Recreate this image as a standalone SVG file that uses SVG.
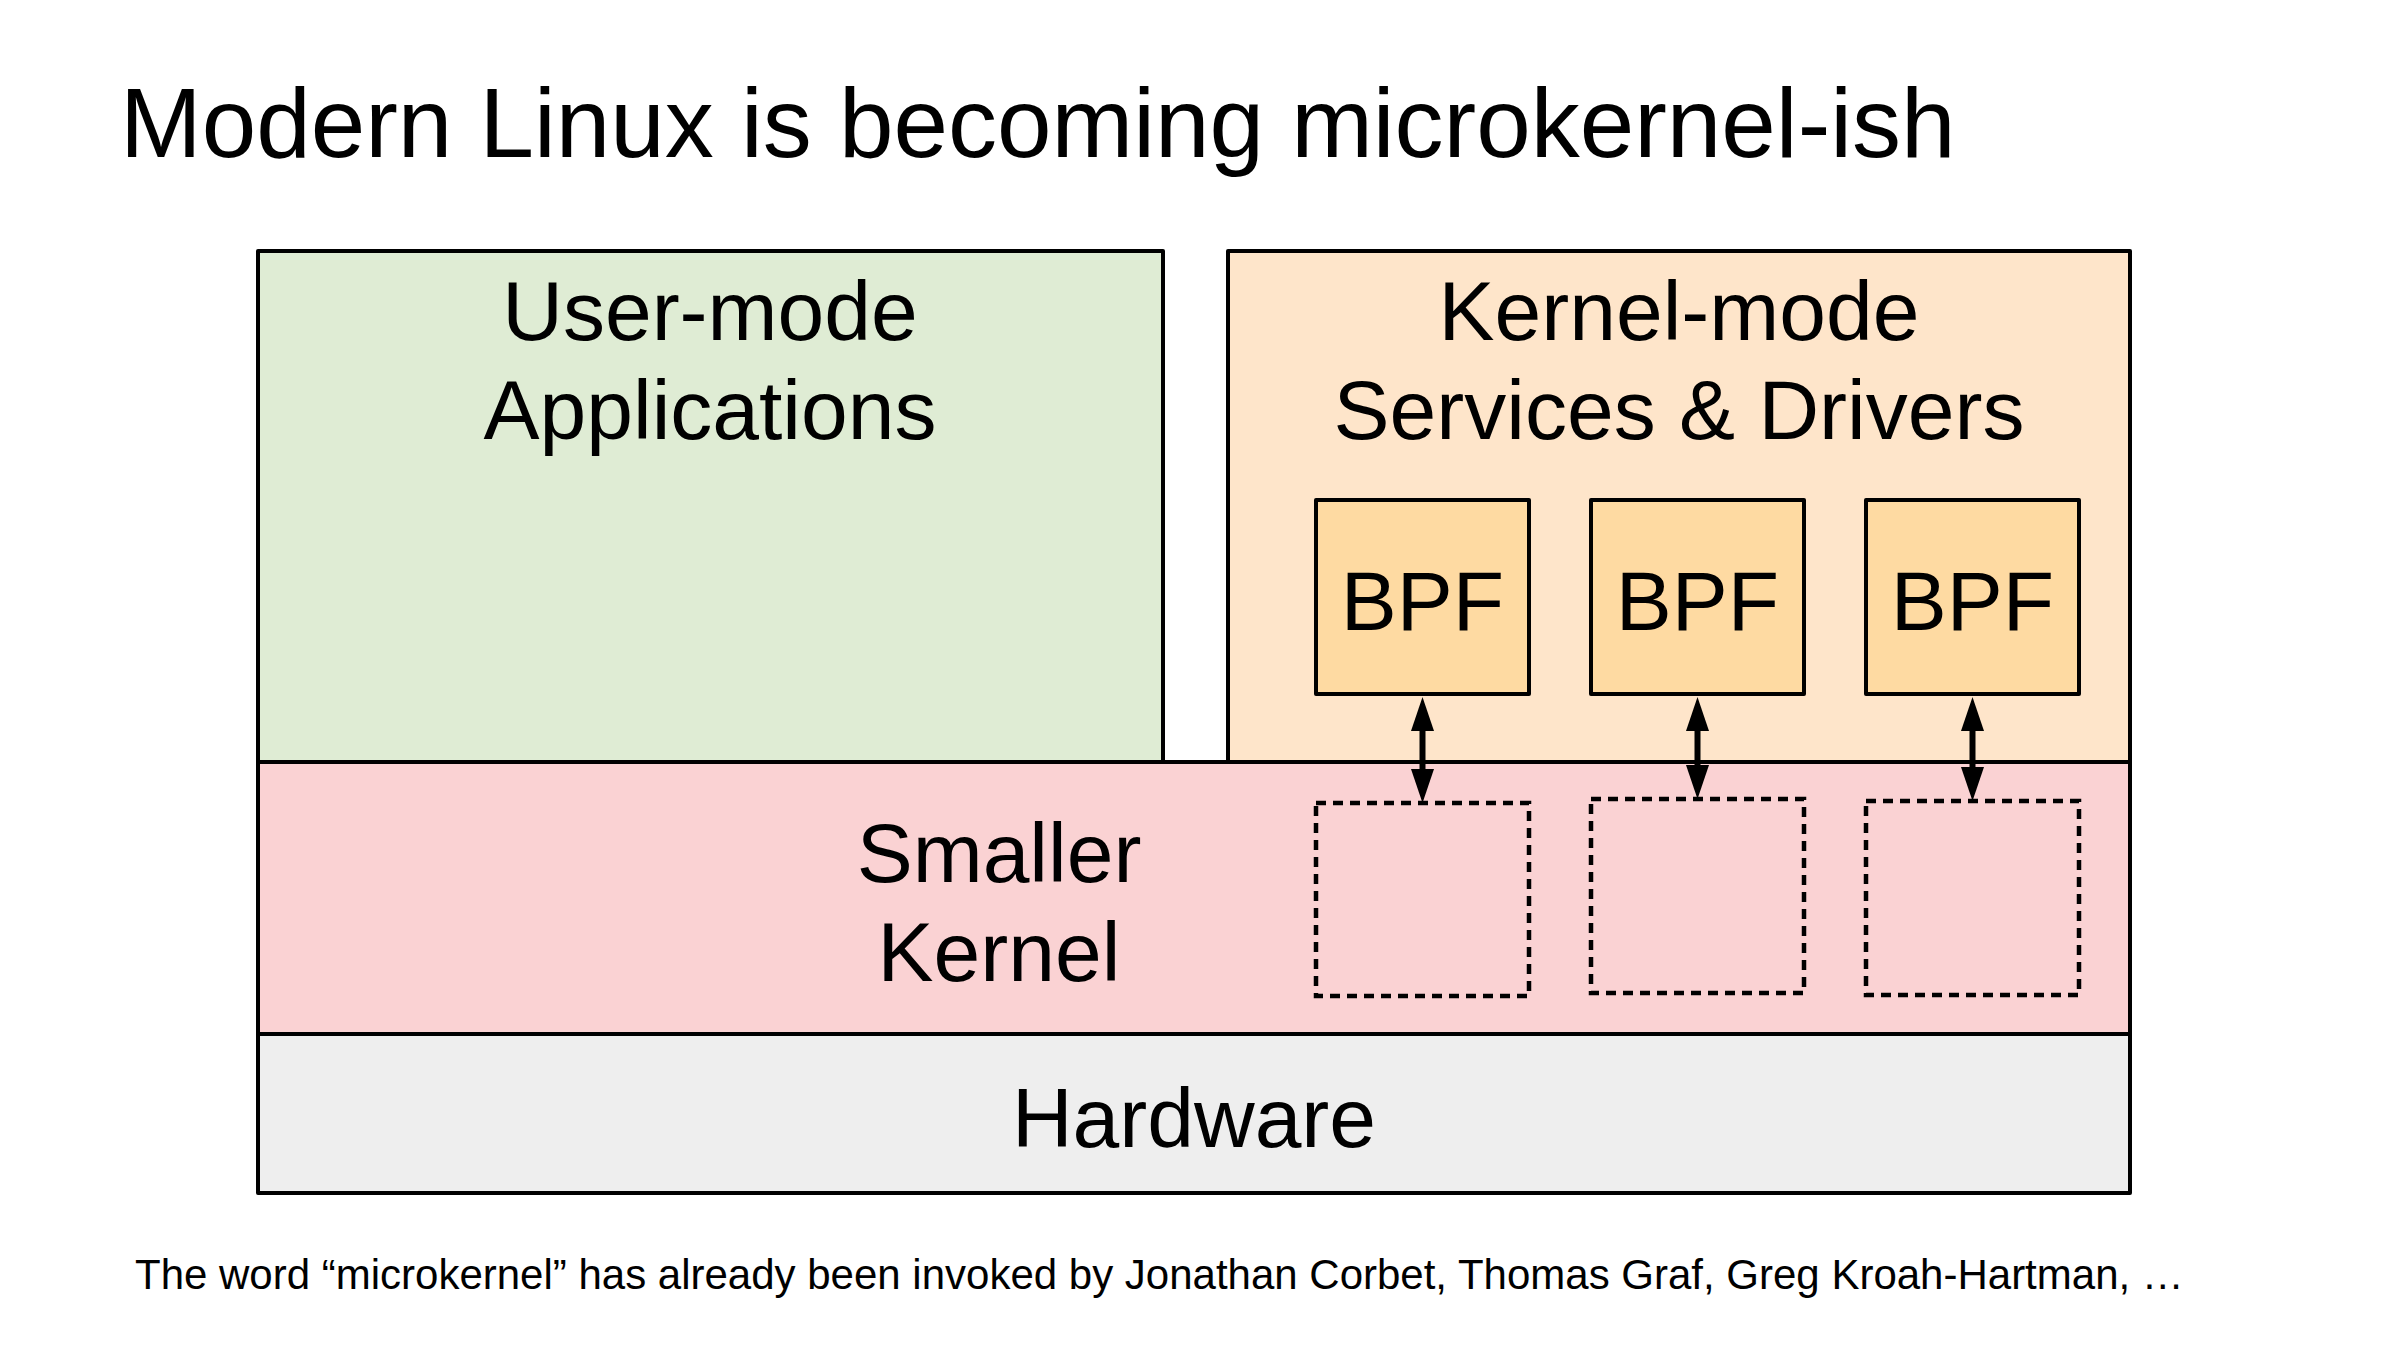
<svg xmlns="http://www.w3.org/2000/svg" width="2400" height="1350" viewBox="0 0 2400 1350">
  <style>
    text { font-family: "Liberation Sans", Arial, sans-serif; fill: #000; }
    .lbl { font-size: 84px; text-anchor: middle; }
    .box { stroke: #000; stroke-width: 4; stroke-linejoin: round; }
    .dash { fill: none; stroke: #000; stroke-width: 4.5; stroke-dasharray: 10 7; }
    .conn { stroke: #000; stroke-width: 6; fill: none; marker-start: url(#ah); marker-end: url(#ah); }
  </style>
  <defs>
    <marker id="ah" markerUnits="userSpaceOnUse" markerWidth="36" markerHeight="24" refX="4" refY="11.5" orient="auto-start-reverse" viewBox="0 0 36 23">
      <path d="M0,0 L34,11.5 L0,23 z" fill="#000"/>
    </marker>
  </defs>
  <rect width="2400" height="1350" fill="#ffffff"/>

  <g id="title">
    <text x="120" y="157" style="font-size:98px">Modern Linux is becoming microkernel-ish</text>
  </g>

  <g id="user-mode">
    <rect class="box" x="258" y="251" width="905" height="511" fill="#dfecd4"/>
    <text class="lbl" x="710" y="340">User-mode</text>
    <text class="lbl" x="710" y="439">Applications</text>
  </g>

  <g id="kernel-mode">
    <rect class="box" x="1228" y="251" width="902" height="511" fill="#fee5ca"/>
    <text class="lbl" x="1679" y="340">Kernel-mode</text>
    <text class="lbl" x="1679" y="439">Services &amp; Drivers</text>
  </g>

  <g id="smaller-kernel">
    <rect class="box" x="258" y="762" width="1872" height="272" fill="#fad2d3"/>
    <text class="lbl" x="999" y="882">Smaller</text>
    <text class="lbl" x="999" y="981">Kernel</text>
  </g>

  <g id="hardware">
    <rect class="box" x="258" y="1034" width="1872" height="159" fill="#eeeeee"/>
    <text class="lbl" x="1194" y="1147">Hardware</text>
  </g>

  <g id="bpf1">
    <rect class="box" x="1316" y="500" width="213" height="194" fill="#fedaa2"/>
    <text class="lbl" x="1422.5" y="630">BPF</text>
  </g>
  <g id="bpf2">
    <rect class="box" x="1591" y="500" width="213" height="194" fill="#fedaa2"/>
    <text class="lbl" x="1697.5" y="630">BPF</text>
  </g>
  <g id="bpf3">
    <rect class="box" x="1866" y="500" width="213" height="194" fill="#fedaa2"/>
    <text class="lbl" x="1972.5" y="630">BPF</text>
  </g>

  <g id="hook1">
    <rect class="dash" x="1316" y="803" width="213" height="193"/>
  </g>
  <g id="hook2">
    <rect class="dash" x="1591" y="799" width="213" height="194"/>
  </g>
  <g id="hook3">
    <rect class="dash" x="1866" y="801" width="213" height="194"/>
  </g>

  <g id="connectors">
    <line class="conn" x1="1422.5" y1="727" x2="1422.5" y2="773"/>
    <line class="conn" x1="1697.5" y1="727" x2="1697.5" y2="769"/>
    <line class="conn" x1="1972.5" y1="727" x2="1972.5" y2="771"/>
  </g>

  <g id="footer">
    <text x="135" y="1289" style="font-size:42px">The word “microkernel” has already been invoked by Jonathan Corbet, Thomas Graf, Greg Kroah-Hartman, …</text>
  </g>
</svg>
